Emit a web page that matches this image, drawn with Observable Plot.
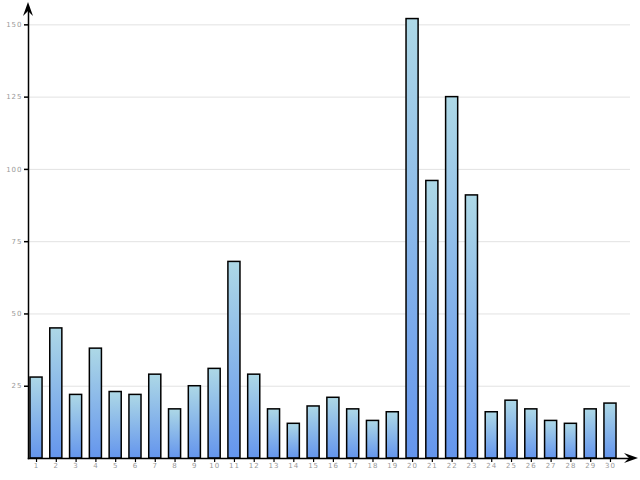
<!DOCTYPE html>
<html><head><meta charset="utf-8">
<script src="https://cdn.jsdelivr.net/npm/d3@7"></script>
<script src="https://cdn.jsdelivr.net/npm/@observablehq/plot@0.6"></script>
<style>body{margin:0;background:#fff} svg{display:block}</style>
</head><body><div id="chart"></div>
<script>
const days = [1,2,3,4,5,6,7,8,9,10,11,12,13,14,15,16,17,18,19,20,21,22,23,24,25,26,27,28,29,30];
const values = [28,45,22,38,23,22,29,17,25,31,68,29,17,12,18,21,17,13,16,152,96,125,91,16,20,17,13,12,17,19];
const yTicks = [25,50,75,100,125,150];

const data = days.map((d, i) => ({day: d, value: values[i]}));
const W = 640, H = 480, ML = 28, MR = 10, MT = 7, MB = 22;

const chart = Plot.plot({
  width: W, height: H,
  marginLeft: ML, marginRight: MR, marginTop: MT, marginBottom: MB,
  style: {background: "#fff", fontFamily: "DejaVu Sans", fontSize: "7px"},
  x: {type: "band", domain: days, range: [ML, 618], round: false, paddingInner: 0.39, paddingOuter: 0.1, label: null},
  y: {domain: [0, 156], label: null},
  marks: [
    Plot.gridY(yTicks, {stroke: "#e2e2e2", strokeOpacity: 1, strokeWidth: 1}),
    Plot.barY(data, {x: "day", y: "value", fill: "url(#barGrad)", stroke: "#000", strokeWidth: 1.5}),
    Plot.axisY(yTicks, {tickSize: 4, tickPadding: 2, color: "#000", fill: "#999", strokeWidth: 1.5, label: null}),
    Plot.axisX({tickSize: 4, tickPadding: 1, fill: "#999", strokeWidth: 1.2, label: null}),
    Plot.frame({anchor: "left", stroke: "#000", strokeWidth: 1.5}),
    Plot.frame({anchor: "bottom", stroke: "#000", strokeWidth: 1.5})
  ]
});

const svg = d3.select(chart);
const defs = svg.insert("defs", ":first-child");
const g = defs.append("linearGradient").attr("id", "barGrad")
  .attr("x1", 0).attr("y1", 0).attr("x2", 0).attr("y2", 1);
g.append("stop").attr("offset", "0%").attr("stop-color", "#add8e6");
g.append("stop").attr("offset", "100%").attr("stop-color", "#6495ed");
svg.selectAll("text").style("letter-spacing", "1px");

// axis extension lines and arrowheads
const x0 = ML, yb = H - MB, xr = W - MR;
svg.append("line").attr("x1", xr).attr("x2", W - 6).attr("y1", yb).attr("y2", yb)
  .attr("stroke", "#000").attr("stroke-width", 1.5);
svg.append("line").attr("x1", x0).attr("x2", x0).attr("y1", MT).attr("y2", 6)
  .attr("stroke", "#000").attr("stroke-width", 1.5);
svg.append("path")
  .attr("d", `M${x0},2 L${x0 + 5},16 L${x0},11 L${x0 - 5},16 Z`)
  .attr("fill", "#000");
svg.append("path")
  .attr("d", `M${W - 2},${yb} L${W - 16},${yb - 5} L${W - 11},${yb} L${W - 16},${yb + 5} Z`)
  .attr("fill", "#000");

document.getElementById("chart").appendChild(chart);
</script>
</body></html>
